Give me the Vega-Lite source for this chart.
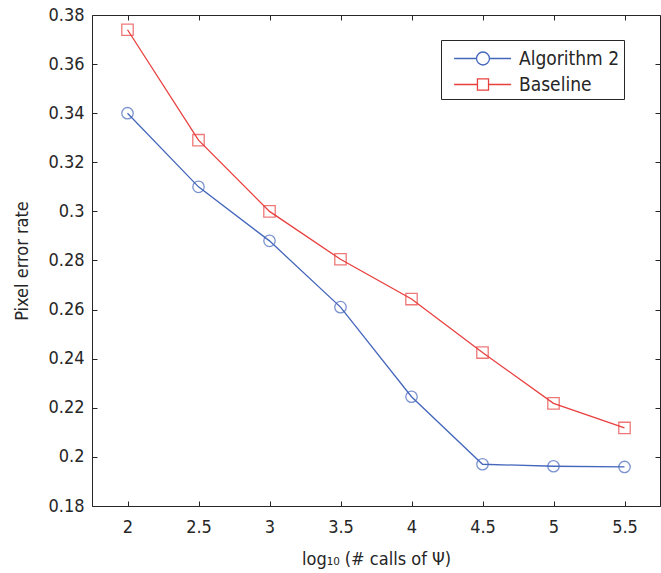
{
  "$schema": "https://vega.github.io/schema/vega-lite/v6.json",
  "width": 568,
  "height": 491,
  "autosize": "none",
  "padding": {"left": 92, "top": 15, "right": 1, "bottom": 67},
  "background": "white",
  "config": {
    "view": {"stroke": "#262626", "strokeWidth": 1},
    "font": "DejaVu Sans Condensed, Roboto, sans-serif",
    "axis": {
      "labelFont": "DejaVu Sans Condensed, Roboto, sans-serif",
      "titleFont": "DejaVu Sans Condensed, Roboto, sans-serif",
      "labelFontSize": 18,
      "titleFontSize": 18,
      "labelColor": "#262626",
      "titleColor": "#262626",
      "titleFontWeight": "normal",
      "tickColor": "#262626",
      "domain": false,
      "grid": false,
      "tickSize": -5
    }
  },
  "data": {
    "values": [
      {"x": 2, "y": 0.340, "series": "Algorithm 2"},
      {"x": 2.5, "y": 0.310, "series": "Algorithm 2"},
      {"x": 3, "y": 0.288, "series": "Algorithm 2"},
      {"x": 3.5, "y": 0.261, "series": "Algorithm 2"},
      {"x": 4, "y": 0.2245, "series": "Algorithm 2"},
      {"x": 4.5, "y": 0.197, "series": "Algorithm 2"},
      {"x": 5, "y": 0.1962, "series": "Algorithm 2"},
      {"x": 5.5, "y": 0.1959, "series": "Algorithm 2"},
      {"x": 2, "y": 0.374, "series": "Baseline"},
      {"x": 2.5, "y": 0.329, "series": "Baseline"},
      {"x": 3, "y": 0.300, "series": "Baseline"},
      {"x": 3.5, "y": 0.2805, "series": "Baseline"},
      {"x": 4, "y": 0.2643, "series": "Baseline"},
      {"x": 4.5, "y": 0.2425, "series": "Baseline"},
      {"x": 5, "y": 0.2218, "series": "Baseline"},
      {"x": 5.5, "y": 0.2118, "series": "Baseline"}
    ]
  },
  "resolve": {"axis": {"x": "independent", "y": "independent"}},
  "layer": [
    {
      "mark": {"type": "line", "strokeWidth": 1.3},
      "encoding": {
        "x": {
          "field": "x", "type": "quantitative",
          "scale": {"domain": [1.75, 5.75], "nice": false, "zero": false},
          "axis": {
            "title": "log₁₀ (# calls of Ψ)",
            "values": [2, 2.5, 3, 3.5, 4, 4.5, 5, 5.5],
            "format": "~g",
            "labelPadding": 17,
            "titlePadding": 14,
            "labelFlush": false
          }
        },
        "y": {
          "field": "y", "type": "quantitative",
          "scale": {"domain": [0.18, 0.38], "nice": false, "zero": false},
          "axis": {
            "title": "Pixel error rate",
            "values": [0.18, 0.2, 0.22, 0.24, 0.26, 0.28, 0.3, 0.32, 0.34, 0.36, 0.38],
            "format": "~g",
            "labelPadding": 13,
            "titlePadding": 16,
            "labelFlush": false
          }
        },
        "color": {
          "field": "series", "type": "nominal",
          "scale": {"domain": ["Algorithm 2", "Baseline"], "range": ["#4466bb", "#e8403f"]},
          "legend": {
            "title": null,
            "orient": "none",
            "legendX": 349,
            "legendY": 25,
            "direction": "vertical",
            "fillColor": "white",
            "strokeColor": "#262626",
            "padding": 4,
            "labelFont": "DejaVu Sans Condensed, Roboto, sans-serif",
            "labelFontSize": 19,
            "labelColor": "#262626",
            "labelOffset": 45,
            "rowPadding": 1,
            "symbolSize": 729,
            "symbolStrokeWidth": 1.3,
            "encode": {
              "symbols": {
                "update": {
                  "shape": {"signal": "datum.value === 'Algorithm 2' ? 'M-0.4,0L1.26,0M2.22,0L3.82,0M2.22,0A0.48,0.48 0 1,1 1.26,0A0.48,0.48 0 1,1 2.22,0' : 'M-0.4,0L1.33,0M2.15,0L3.82,0M1.33,-0.41L2.15,-0.41L2.15,0.41L1.33,0.41Z'"},
                  "fill": {"value": "transparent"}
                }
              }
            }
          }
        }
      }
    },
    {
      "mark": {"type": "point", "filled": false, "strokeWidth": 1.3, "size": 130},
      "encoding": {
        "x": {"field": "x", "type": "quantitative", "axis": null},
        "y": {"field": "y", "type": "quantitative", "axis": null},
        "shape": {"condition": {"test": "datum.series === 'Baseline'", "value": "square"}, "value": "circle"},
        "stroke": {"condition": {"test": "datum.series === 'Baseline'", "value": "#e8403f"}, "value": "#4466bb"}
      }
    },
    {
      "mark": {"type": "point", "opacity": 0},
      "encoding": {
        "x": {
          "field": "x", "type": "quantitative",
          "axis": {"orient": "top", "title": null, "labels": false, "values": [2, 2.5, 3, 3.5, 4, 4.5, 5, 5.5]}
        },
        "y": {
          "field": "y", "type": "quantitative",
          "axis": {"orient": "right", "title": null, "labels": false, "values": [0.18, 0.2, 0.22, 0.24, 0.26, 0.28, 0.3, 0.32, 0.34, 0.36, 0.38]}
        }
      }
    }
  ]
}
